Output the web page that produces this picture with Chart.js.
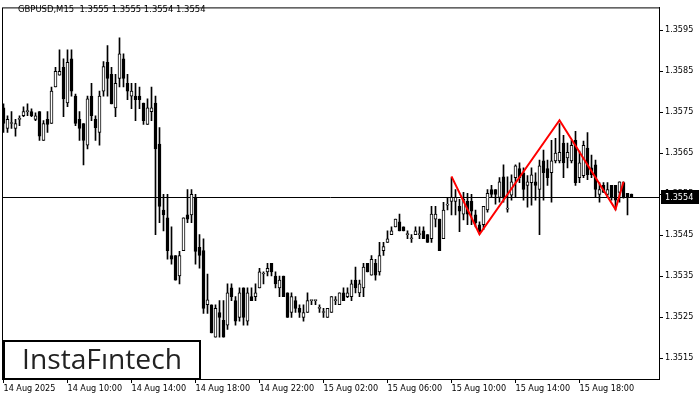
<!DOCTYPE html>
<html><head><meta charset="utf-8">
<script src="https://cdn.jsdelivr.net/npm/chart.js@4/dist/chart.umd.min.js"></script>
<style>html,body{margin:0;padding:0;background:#fff}canvas{display:block}</style>
</head><body>
<canvas id="c" width="700" height="400"></canvas>
<script>
const symbolTitle = 'GBPUSD,M15  1.3555 1.3555 1.3554 1.3554';
const brandName = 'InstaF\u0131ntech';
const xTickLabels = ['14 Aug 2025','14 Aug 10:00','14 Aug 14:00','14 Aug 18:00','14 Aug 22:00','15 Aug 02:00','15 Aug 06:00','15 Aug 10:00','15 Aug 14:00','15 Aug 18:00'];
const xTickIndex = [0,16,32,48,64,80,96,112,128,144];
const yTickValues = [1.3515,1.3525,1.3535,1.3545,1.3555,1.3565,1.3575,1.3585,1.3595];

const opens = [1.35760,1.35710,1.35722,1.35710,1.35732,1.35741,1.35751,1.35751,1.35732,1.35751,
 1.35681,1.35732,1.35722,1.35811,1.35840,1.35859,1.35772,1.35880,1.35789,1.35732,
 1.35722,1.35669,1.35789,1.35732,1.35700,1.35801,1.35871,1.35842,1.35760,1.35832,
 1.35880,1.35820,1.35789,1.35789,1.35789,1.35772,1.35720,1.35751,1.35772,1.35672,
 1.35511,1.35492,1.35400,1.35400,1.35350,1.35412,1.35499,1.35499,1.35540,1.35420,
 1.35412,1.35280,1.35280,1.35201,1.35261,1.35242,1.35230,1.35321,1.35290,1.35249,
 1.35321,1.35240,1.35300,1.35300,1.35321,1.35355,1.35360,1.35381,1.35350,1.35321,
 1.35350,1.35309,1.35261,1.35290,1.35271,1.35249,1.35261,1.35290,1.35290,1.35271,
 1.35261,1.35249,1.35261,1.35290,1.35280,1.35309,1.35300,1.35300,1.35340,1.35309,
 1.35321,1.35381,1.35352,1.35381,1.35360,1.35412,1.35432,1.35451,1.35470,1.35482,
 1.35470,1.35451,1.35441,1.35451,1.35451,1.35460,1.35451,1.35441,1.35489,1.35489,
 1.35441,1.35523,1.35532,1.35532,1.35520,1.35501,1.35532,1.35532,1.35499,1.35475,
 1.35475,1.35511,1.35561,1.35561,1.35542,1.35592,1.35513,1.35547,1.35590,1.35612,
 1.35602,1.35571,1.35578,1.35580,1.35561,1.35631,1.35612,1.35602,1.35631,1.35631,
 1.35674,1.35638,1.35631,1.35681,1.35590,1.35595,1.35662,1.35614,1.35621,1.35549,
 1.35571,1.35549,1.35571,1.35571,1.35554,1.35578,1.35552,1.35550];
const highs = [1.35770,1.35741,1.35751,1.35732,1.35741,1.35763,1.35770,1.35758,1.35748,1.35751,
 1.35729,1.35751,1.35811,1.35859,1.35902,1.35880,1.35902,1.35902,1.35794,1.35751,
 1.35722,1.35789,1.35820,1.35741,1.35801,1.35873,1.35912,1.35859,1.35842,1.35931,
 1.35892,1.35842,1.35820,1.35820,1.35811,1.35772,1.35782,1.35811,1.35789,1.35712,
 1.35549,1.35549,1.35470,1.35400,1.35410,1.35492,1.35561,1.35561,1.35549,1.35451,
 1.35441,1.35355,1.35280,1.35280,1.35290,1.35290,1.35331,1.35331,1.35300,1.35321,
 1.35321,1.35321,1.35321,1.35331,1.35369,1.35360,1.35381,1.35381,1.35360,1.35350,
 1.35350,1.35309,1.35309,1.35300,1.35280,1.35280,1.35309,1.35290,1.35290,1.35280,
 1.35271,1.35271,1.35300,1.35300,1.35309,1.35321,1.35321,1.35340,1.35372,1.35340,
 1.35381,1.35381,1.35400,1.35391,1.35432,1.35432,1.35460,1.35470,1.35489,1.35501,
 1.35470,1.35460,1.35451,1.35470,1.35470,1.35470,1.35451,1.35520,1.35520,1.35489,
 1.35530,1.35540,1.35590,1.35561,1.35537,1.35554,1.35552,1.35549,1.35511,1.35482,
 1.35520,1.35561,1.35571,1.35561,1.35590,1.35621,1.35592,1.35597,1.35621,1.35626,
 1.35614,1.35595,1.35614,1.35602,1.35633,1.35657,1.35633,1.35681,1.35686,1.35722,
 1.35693,1.35674,1.35681,1.35703,1.35655,1.35679,1.35700,1.35645,1.35633,1.35578,
 1.35578,1.35578,1.35571,1.35571,1.35580,1.35580,1.35552,1.35550];
const lows = [1.35700,1.35700,1.35710,1.35691,1.35717,1.35739,1.35741,1.35739,1.35729,1.35681,
 1.35681,1.35700,1.35722,1.35811,1.35840,1.35739,1.35763,1.35789,1.35717,1.35681,
 1.35621,1.35660,1.35729,1.35681,1.35669,1.35789,1.35789,1.35770,1.35739,1.35811,
 1.35811,1.35780,1.35758,1.35729,1.35758,1.35720,1.35720,1.35729,1.35451,1.35480,
 1.35460,1.35391,1.35379,1.35340,1.35331,1.35412,1.35480,1.35480,1.35379,1.35369,
 1.35259,1.35259,1.35211,1.35201,1.35201,1.35201,1.35220,1.35290,1.35230,1.35240,
 1.35230,1.35230,1.35290,1.35290,1.35321,1.35331,1.35350,1.35350,1.35321,1.35300,
 1.35300,1.35249,1.35249,1.35261,1.35249,1.35240,1.35261,1.35280,1.35280,1.35261,
 1.35249,1.35249,1.35261,1.35280,1.35280,1.35290,1.35297,1.35290,1.35309,1.35300,
 1.35300,1.35360,1.35352,1.35340,1.35352,1.35400,1.35432,1.35451,1.35470,1.35460,
 1.35460,1.35441,1.35432,1.35451,1.35441,1.35441,1.35432,1.35432,1.35470,1.35412,
 1.35441,1.35511,1.35499,1.35499,1.35458,1.35487,1.35475,1.35475,1.35470,1.35453,
 1.35463,1.35506,1.35542,1.35525,1.35530,1.35530,1.35506,1.35535,1.35542,1.35578,
 1.35535,1.35518,1.35523,1.35535,1.35451,1.35535,1.35571,1.35530,1.35626,1.35626,
 1.35590,1.35614,1.35626,1.35571,1.35578,1.35590,1.35585,1.35590,1.35542,1.35530,
 1.35554,1.35542,1.35535,1.35511,1.35530,1.35540,1.35499,1.35542];
const closes = [1.35722,1.35732,1.35724,1.35722,1.35732,1.35751,1.35751,1.35741,1.35741,1.35691,
 1.35722,1.35720,1.35801,1.35849,1.35849,1.35782,1.35871,1.35801,1.35722,1.35710,
 1.35681,1.35782,1.35741,1.35712,1.35789,1.35861,1.35832,1.35770,1.35820,1.35892,
 1.35832,1.35801,1.35801,1.35780,1.35780,1.35729,1.35760,1.35760,1.35660,1.35520,
 1.35499,1.35412,1.35391,1.35340,1.35400,1.35492,1.35489,1.35549,1.35410,1.35400,
 1.35271,1.35292,1.35211,1.35271,1.35249,1.35201,1.35309,1.35300,1.35240,1.35309,
 1.35249,1.35309,1.35290,1.35309,1.35360,1.35355,1.35369,1.35360,1.35331,1.35340,
 1.35300,1.35249,1.35300,1.35271,1.35261,1.35261,1.35290,1.35290,1.35290,1.35271,
 1.35261,1.35271,1.35300,1.35290,1.35309,1.35290,1.35309,1.35331,1.35321,1.35331,
 1.35372,1.35360,1.35391,1.35352,1.35400,1.35422,1.35441,1.35460,1.35489,1.35460,
 1.35460,1.35451,1.35441,1.35460,1.35451,1.35441,1.35432,1.35501,1.35501,1.35412,
 1.35511,1.35523,1.35542,1.35542,1.35508,1.35537,1.35501,1.35508,1.35480,1.35458,
 1.35520,1.35552,1.35549,1.35549,1.35580,1.35542,1.35516,1.35580,1.35619,1.35590,
 1.35561,1.35580,1.35597,1.35571,1.35619,1.35602,1.35590,1.35631,1.35650,1.35652,
 1.35626,1.35652,1.35669,1.35578,1.35626,1.35669,1.35597,1.35597,1.35561,1.35561,
 1.35554,1.35561,1.35542,1.35535,1.35580,1.35542,1.35542,1.35542];

const patternX = [112, 119, 139, 153, 155];
const patternY = [1.35593, 1.35452, 1.35730, 1.35513, 1.35580];

const FONT = "'DejaVu Sans Condensed','DejaVu Sans',sans-serif";
const bodies = opens.map((o, i) => ({x: i, y: [o, closes[i]]}));
const wicks = highs.map((h, i) => ({x: i, y: [lows[i], h]}));
const pattern = patternX.map((x, i) => ({x: x, y: patternY[i]}));

const overlay = {
  id: 'overlay',
  beforeDatasetsDraw(chart) {
    const {ctx, chartArea: a, scales: {y}} = chart;
    const py = Math.round(y.getPixelForValue(closes[closes.length - 1])) + 0.5;
    ctx.save();
    ctx.strokeStyle = '#000'; ctx.lineWidth = 1;
    ctx.beginPath(); ctx.moveTo(a.left, py); ctx.lineTo(a.right, py); ctx.stroke();
    ctx.restore();
  },
  afterDraw(chart) {
    const {ctx, chartArea: a, scales: {y}} = chart;
    ctx.save();
    ctx.strokeStyle = '#000'; ctx.lineWidth = 1;
    ctx.strokeRect(a.left + 0.5, a.top + 0.5, a.right - a.left, a.bottom - a.top);
    ctx.fillStyle = '#000';
    ctx.font = '9.4px ' + FONT;
    ctx.textBaseline = 'middle'; ctx.textAlign = 'left';
    ctx.fillText(symbolTitle, 18, 10);
    const last = closes[closes.length - 1];
    const py = Math.round(y.getPixelForValue(last));
    ctx.fillRect(a.right + 2, py - 7, 38, 14);
    ctx.fillStyle = '#fff';
    ctx.font = '9px ' + FONT;
    ctx.fillText(last.toFixed(4), a.right + 6, py + 0.5);
    // logo
    ctx.fillStyle = '#fff';
    ctx.fillRect(3, 340, 198, 40);
    ctx.lineWidth = 2; ctx.strokeStyle = '#000';
    ctx.strokeRect(4, 341, 196, 38);
    ctx.fillStyle = '#222';
    let fs = 28;
    ctx.font = '500 ' + fs + "px 'Open Sans', sans-serif";
    const w = ctx.measureText(brandName).width;
    fs = fs * 160 / w;
    ctx.font = '500 ' + fs.toFixed(2) + "px 'Open Sans', sans-serif";
    ctx.textAlign = 'center'; ctx.textBaseline = 'alphabetic';
    ctx.fillText(brandName, 102, 369);
    ctx.restore();
  }
};

new Chart(document.getElementById('c'), {
  type: 'bar',
  data: {
    datasets: [
      {type: 'line', data: pattern, borderColor: '#ff0000', borderWidth: 2, pointRadius: 0, fill: false, order: 0, tension: 0},
      {data: bodies, grouped: false, order: 1, barThickness: 3, minBarLength: 1,
       backgroundColor: c => (closes[c.dataIndex] >= opens[c.dataIndex] ? '#ffffff' : '#000000'),
       borderColor: '#000', borderWidth: 1, borderSkipped: false},
      {data: wicks, grouped: false, order: 2, barThickness: 1, minBarLength: 1,
       backgroundColor: '#000', borderWidth: 0}
    ]
  },
  options: {
    responsive: false, animation: false, maintainAspectRatio: false,
    layout: {padding: {left: 2, top: 2, right: 0, bottom: 0}},
    plugins: {legend: {display: false}, tooltip: {enabled: false}, title: {display: false}},
    scales: {
      x: {
        type: 'linear', min: -0.375, max: 163.875, offset: false, position: 'bottom',
        afterBuildTicks: s => { s.ticks = xTickIndex.map(v => ({value: v})); },
        afterFit: s => { s.height = 21; },
        grid: {drawOnChartArea: false, offset: false, tickLength: 4, color: '#000'},
        border: {color: '#000'},
        ticks: {align: 'start', maxRotation: 0, minRotation: 0, autoSkip: false, padding: 0, color: '#000',
          font: {family: FONT, size: 9},
          callback: v => xTickLabels[xTickIndex.indexOf(v)]}
      },
      y: {
        position: 'right', min: 1.350989, max: 1.360052,
        afterBuildTicks: s => { s.ticks = yTickValues.map(v => ({value: v})); },
        afterFit: s => { s.width = 41; },
        grid: {drawOnChartArea: false, tickLength: 4, color: '#000'},
        border: {color: '#000'},
        ticks: {padding: 2, color: '#000', font: {family: FONT, size: 9},
          callback: v => Number(v).toFixed(4)}
      }
    }
  },
  plugins: [overlay]
});
</script>
</body></html>
